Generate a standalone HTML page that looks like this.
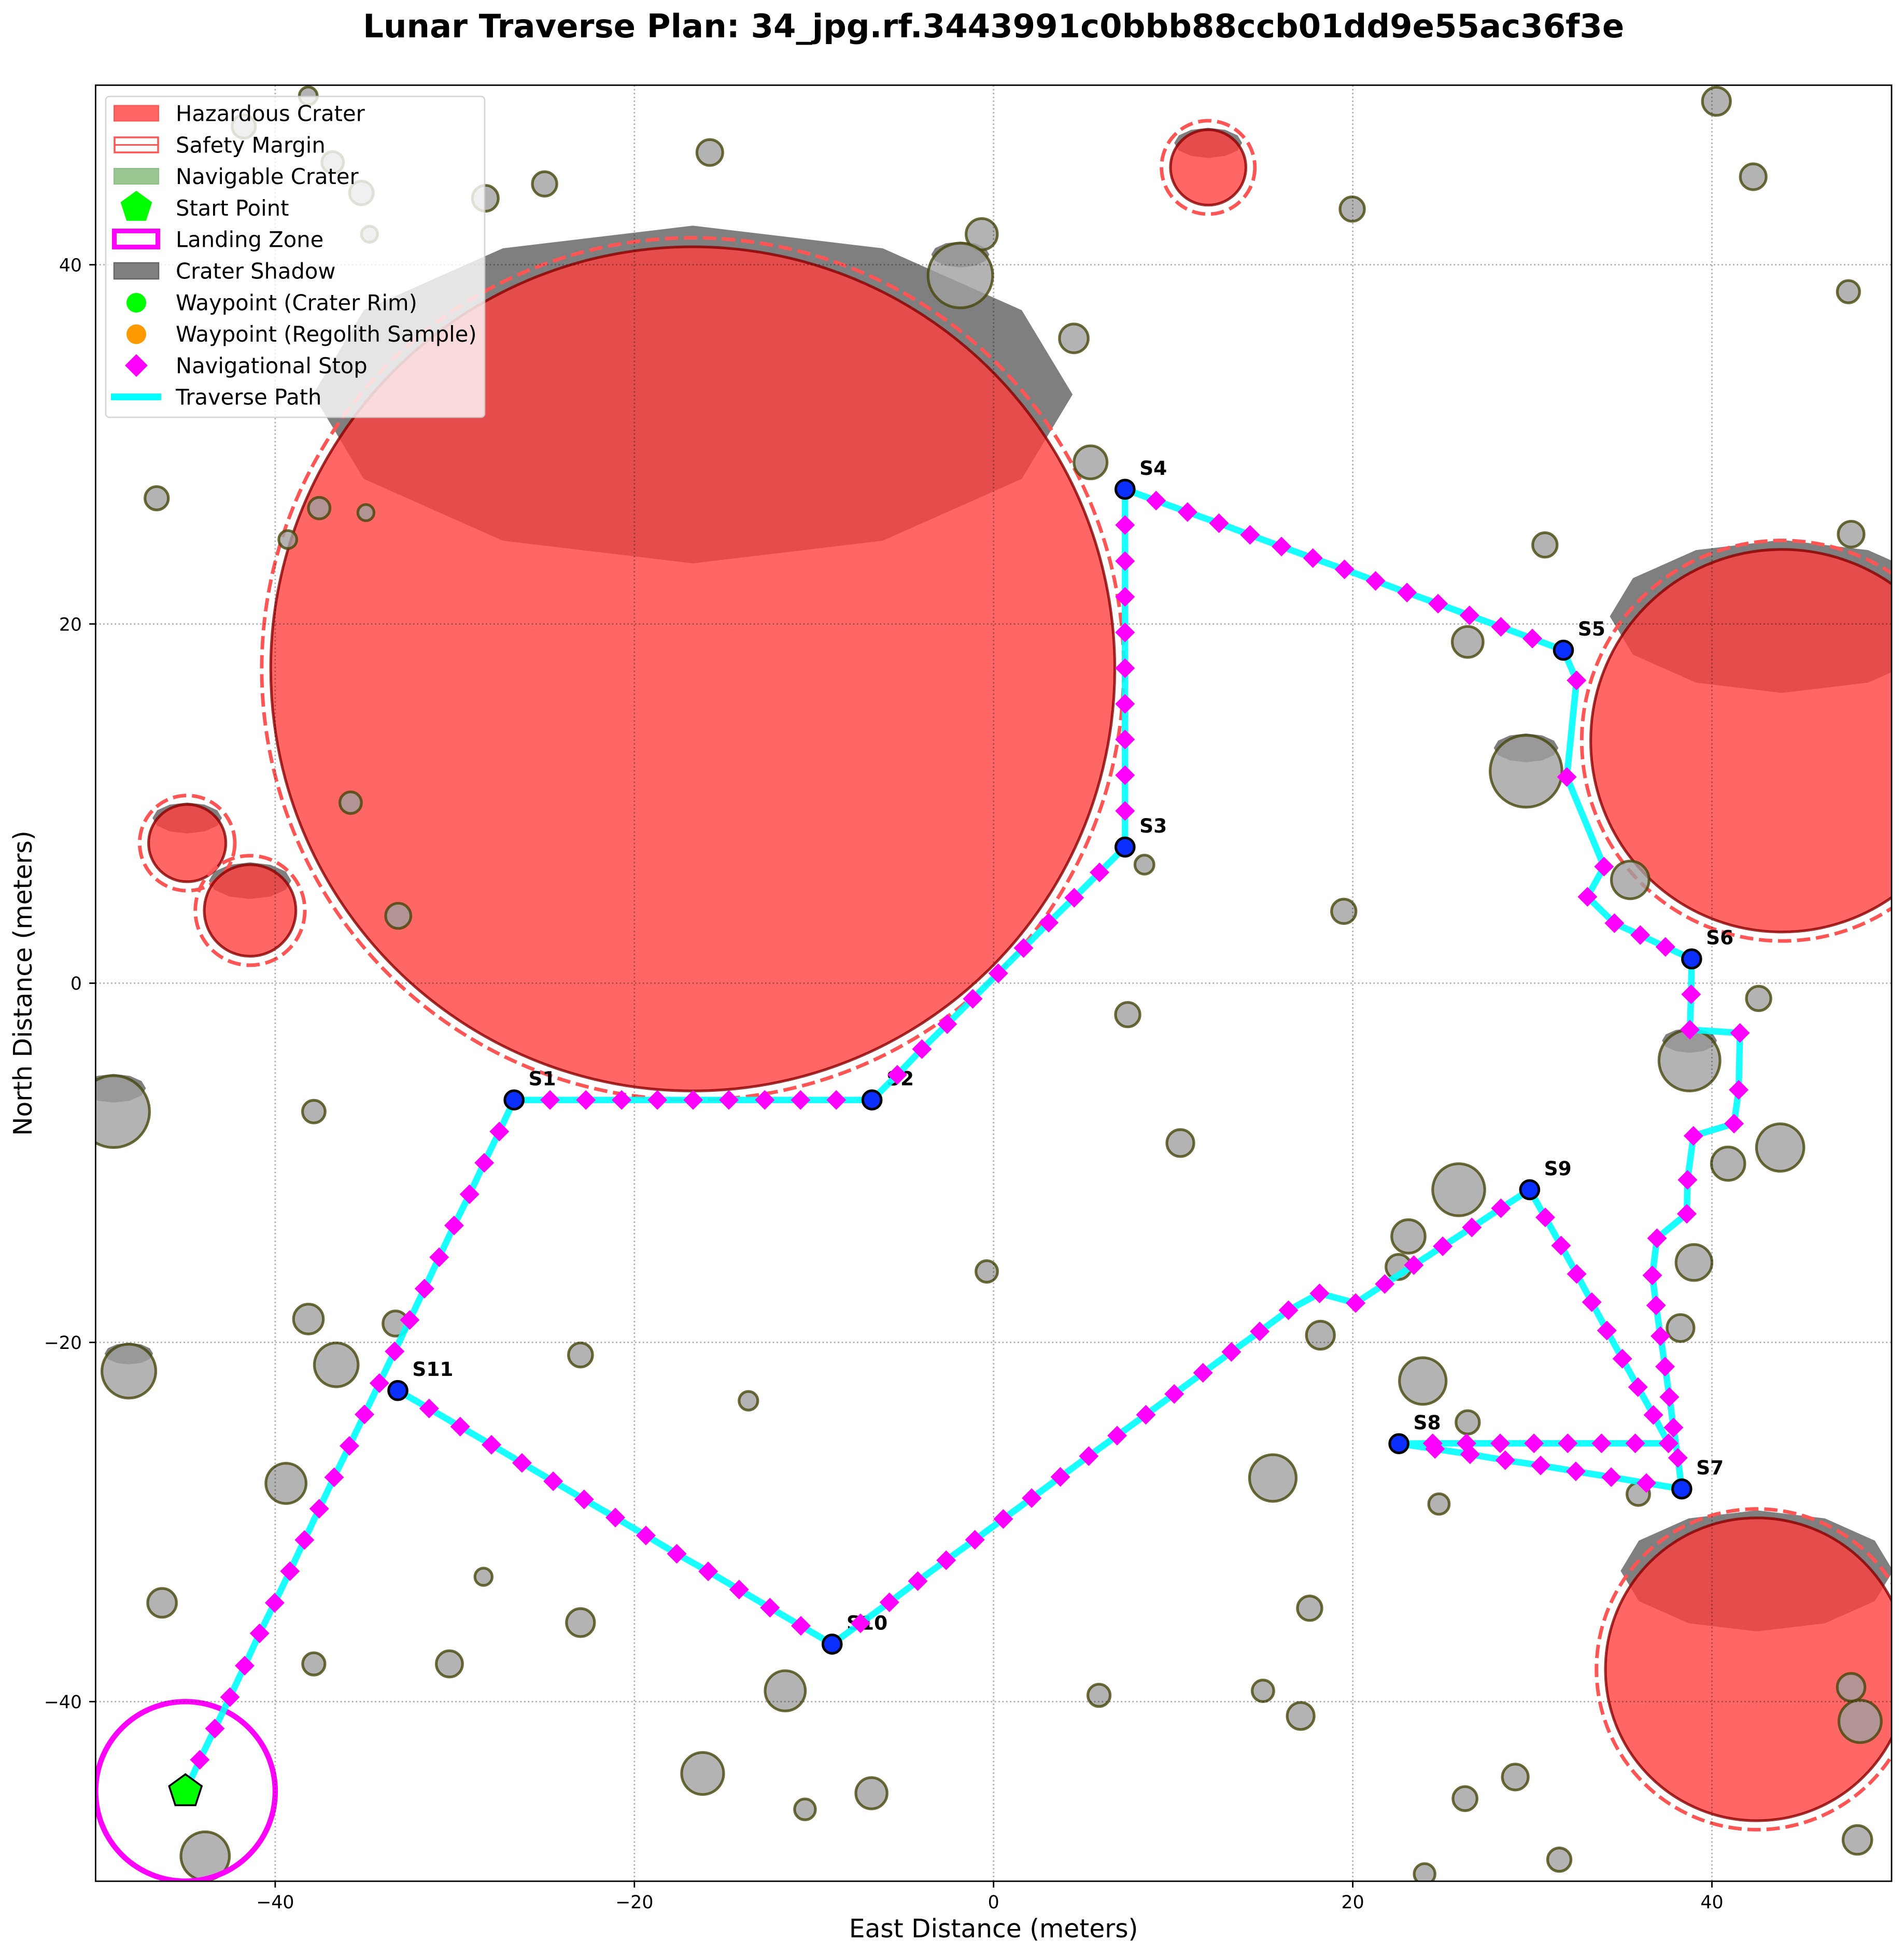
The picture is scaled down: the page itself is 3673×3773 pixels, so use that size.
<!DOCTYPE html>
<html lang="en">
<head>
<meta charset="utf-8">
<title>Lunar Traverse Plan</title>
<style>
html,body{margin:0;padding:0;background:#fff;width:3673px;height:3773px;overflow:hidden}
svg{display:block}
text{font-family:"DejaVu Sans","Liberation Sans",sans-serif;fill:#000}
</style>
</head>
<body>
<svg id="chart" xmlns="http://www.w3.org/2000/svg" width="3673" height="3773" viewBox="0 0 3673 3773">
  <defs>
    <clipPath id="axes-clip"><rect x="184.4" y="164.3" width="3464.6" height="3464.5"/></clipPath>
  </defs>
  <rect x="0" y="0" width="3673" height="3773" fill="#fff"/>
  <text x="1916.7" y="72" text-anchor="middle" font-size="62.5" font-weight="700">Lunar Traverse Plan: 34_jpg.rf.3443991c0bbb88ccb01dd9e55ac36f3e</text>
  <g id="plot" clip-path="url(#axes-clip)"></g>
  <g id="ticks"></g>
  <rect x="184.4" y="164.3" width="3464.6" height="3464.5" fill="none" stroke="#000" stroke-width="2.78"/>
  <text x="1916.7" y="3737" text-anchor="middle" font-size="48.6">East Distance (meters)</text>
  <text transform="translate(61 1896.5) rotate(-90)" text-anchor="middle" font-size="48.6">North Distance (meters)</text>

  <g>
    <rect x="204" y="186" width="731" height="619" rx="7" ry="7" fill="rgba(255,255,255,0.8)" stroke="rgba(204,204,204,0.8)" stroke-width="2.78"/>
    <g>
      <rect x="220" y="203.5" width="86" height="30" fill="rgba(255,64,64,0.8)" stroke="rgba(255,64,64,0.8)" stroke-width="2"/>
      <text x="339" y="233.5" font-size="41.67">Hazardous Crater</text>
    </g>
    <g>
      <rect x="221" y="265" width="84" height="29" fill="none" stroke="#ff5555" stroke-width="3.5"/>
      <line x1="221" x2="305" y1="279.5" y2="279.5" stroke="#ff5555" stroke-width="3"/>
      <text x="339" y="294.3" font-size="41.67">Safety Margin</text>
    </g>
    <g>
      <rect x="220" y="325" width="86" height="30" fill="#98c78f" stroke="#8fbf88" stroke-width="2"/>
      <text x="339" y="355.1" font-size="41.67">Navigable Crater</text>
    </g>
    <g>
      <polygon points="263,368 293.4,390.1 281.8,425.9 244.2,425.9 232.6,390.1" fill="#00ff00"/>
      <text x="339" y="415.9" font-size="41.67">Start Point</text>
    </g>
    <g>
      <rect x="220.5" y="445.5" width="84" height="31" fill="none" stroke="#ff00ff" stroke-width="9"/>
      <text x="339" y="476.7" font-size="41.67">Landing Zone</text>
    </g>
    <g>
      <rect x="220" y="507" width="86" height="31" fill="#808080" stroke="#666" stroke-width="2.5"/>
      <text x="339" y="537.5" font-size="41.67">Crater Shadow</text>
    </g>
    <g>
      <circle cx="263" cy="584" r="19" fill="#00ff00"/>
      <text x="339" y="598.3" font-size="41.67">Waypoint (Crater Rim)</text>
    </g>
    <g>
      <circle cx="263" cy="644.7" r="19" fill="#ff9900"/>
      <text x="339" y="659.1" font-size="41.67">Waypoint (Regolith Sample)</text>
    </g>
    <g>
      <polygon points="263,683 285,705 263,727 241,705" fill="#ff00ff"/>
      <text x="339" y="719.9" font-size="41.67">Navigational Stop</text>
    </g>
    <g>
      <line x1="214" x2="311" y1="765.6" y2="765.6" stroke="#00ffff" stroke-width="13"/>
      <text x="339" y="780.7" font-size="41.67">Traverse Path</text>
    </g>
  </g>
</svg>
<script>
// ---------- tick values ----------
const xTicks = [-40, -20, 0, 20, 40];
const yTicks = [-40, -20, 0, 20, 40];

// ---------- hazardous craters (metres) ----------
const hazardX = [-16.75, 11.95, -44.9, -41.4, 43.9, 42.5];
const hazardY = [17.5, 45.42, 7.8, 4.05, 13.5, -38.2];
const hazardR = [23.5, 2.1, 2.15, 2.55, 10.65, 8.43];
const safetyMargin = 0.5;

// ---------- navigable craters (metres) ----------
const craterX = [-38.16,-41.75,-36.8,-35.2,-34.75,-28.3,-25.0,-15.8,-0.66,-1.85,4.47,5.4,19.97,40.25,42.3,47.6,47.75,30.7,26.4,29.65,35.45,19.5,8.4,7.47,42.6,38.75,43.8,40.9,10.4,25.9,23.1,22.55,39.0,38.25,18.2,-0.38,23.9,26.4,15.55,24.8,35.9,17.6,15.0,5.87,17.1,26.25,29.05,24.0,31.5,47.75,48.25,48.1,-6.8,-10.5,-11.6,-16.2,-23.0,-30.3,-28.4,-37.85,-46.3,-43.9,-39.4,-36.6,-38.15,-33.3,-23.0,-13.65,-48.15,-49.0,-37.85,-46.6,-39.3,-37.55,-34.95,-35.8,-33.15];
const craterY = [49.4,47.7,45.7,44.0,41.7,43.7,44.5,46.25,41.7,39.4,35.9,29.0,43.1,49.1,44.9,38.5,25.0,24.4,19.0,11.8,5.75,4.0,6.6,-1.75,-0.85,-4.3,-9.15,-10.05,-8.9,-11.5,-14.1,-15.8,-15.55,-19.2,-19.6,-16.05,-22.15,-24.45,-27.55,-29.0,-28.45,-34.8,-39.4,-39.65,-40.8,-45.4,-44.2,-49.6,-48.8,-39.2,-41.1,-47.7,-45.1,-46.0,-39.4,-44.0,-35.6,-37.9,-33.05,-37.9,-34.5,-48.6,-27.85,-21.25,-18.7,-18.95,-20.7,-23.25,-21.6,-7.15,-7.15,27.0,24.7,26.45,26.2,10.05,3.75];
const craterR = [0.5,0.65,0.6,0.66,0.45,0.72,0.68,0.72,0.87,1.8,0.8,0.92,0.68,0.78,0.72,0.62,0.72,0.68,0.86,2.0,1.05,0.68,0.53,0.68,0.68,1.7,1.32,0.93,0.75,1.45,0.93,0.7,1.0,0.75,0.78,0.6,1.3,0.65,1.3,0.57,0.63,0.68,0.6,0.62,0.75,0.67,0.72,0.58,0.65,0.77,1.18,0.8,0.87,0.58,1.12,1.17,0.78,0.73,0.48,0.62,0.8,1.35,1.12,1.22,0.83,0.7,0.67,0.52,1.5,2.0,0.63,0.65,0.5,0.6,0.45,0.6,0.7];
const shadowMinRadius = 1.5;

// ---------- landing zone and start ----------
const startX = -45;
const startY = -45;
const landingRadius = 5;

// ---------- stations ----------
const stationNames = ["S1","S2","S3","S4","S5","S6","S7","S8","S9","S10","S11"];
const stationX = [-26.7,-6.77,7.32,7.32,31.73,38.87,38.32,22.57,29.85,-8.99,-33.17];
const stationY = [-6.5,-6.5,7.58,27.5,18.54,1.35,-28.16,-25.64,-11.5,-36.8,-22.68];

// ---------- navigational stops on the leg leading to each station ----------
const stopsToS1X = [-44.2,-43.36,-42.52,-41.7,-40.87,-40.03,-39.18,-38.37,-37.55,-36.72,-35.87,-35.03,-34.2,-33.35,-32.51,-31.69,-30.87,-30.04,-29.18,-28.36,-27.52];
const stopsToS1Y = [-43.24,-41.5,-39.75,-38,-36.2,-34.5,-32.74,-31,-29.26,-27.51,-25.76,-24.01,-22.27,-20.5,-18.75,-17.01,-15.26,-13.49,-11.75,-10,-8.26];
const stopsToS2X = [-24.7,-22.7,-20.71,-18.72,-16.73,-14.74,-12.74,-10.75,-8.76];
const stopsToS2Y = [-6.5,-6.5,-6.5,-6.5,-6.5,-6.5,-6.5,-6.5,-6.5];
const stopsToS3X = [-5.36,-3.99,-2.58,-1.16,0.26,1.67,3.07,4.49,5.9];
const stopsToS3Y = [-5.1,-3.67,-2.28,-0.87,0.55,1.96,3.37,4.76,6.17];
const stopsToS4X = [7.32,7.32,7.32,7.32,7.32,7.32,7.32,7.32,7.32];
const stopsToS4Y = [9.59,11.58,13.57,15.55,17.54,19.53,21.51,23.5,25.51];
const stopsToS5X = [9.05,10.8,12.55,14.28,16.03,17.78,19.54,21.27,23.02,24.75,26.5,28.25,30.0];
const stopsToS5Y = [26.87,26.23,25.61,24.96,24.31,23.67,23.04,22.4,21.75,21.13,20.48,19.84,19.19];
const stopsToS6X = [32.46,31.92,33.99,33.07,34.57,36.01,37.41];
const stopsToS6Y = [16.86,11.48,6.49,4.81,3.34,2.68,2.02];
const stopsToS7X = [38.84,38.77,41.56,41.49,41.23,38.97,38.64,38.6,36.94,36.68,36.89,37.13,37.39,37.63,37.86,38.1];
const stopsToS7Y = [-0.62,-2.59,-2.77,-5.94,-7.82,-8.5,-10.95,-12.84,-14.2,-16.27,-17.94,-19.65,-21.35,-23.04,-24.74,-26.43];
const stopsToS8X = [36.35,34.39,32.42,30.46,28.49,26.53,24.58];
const stopsToS8Y = [-27.83,-27.5,-27.18,-26.85,-26.56,-26.23,-25.93];
const stopsToS9X = [24.45,26.33,28.21,30.09,31.97,33.85,35.73,37.58,36.74,35.88,35.01,34.15,33.31,32.47,31.6,30.72];
const stopsToS9Y = [-25.62,-25.62,-25.62,-25.62,-25.62,-25.62,-25.62,-25.62,-24.04,-22.49,-20.91,-19.34,-17.76,-16.19,-14.61,-13.04];
const stopsToS10X = [28.25,26.63,25.01,23.4,21.78,20.16,18.15,16.42,14.82,13.24,11.66,10.06,8.48,6.88,5.3,3.72,2.12,0.54,-1.04,-2.64,-4.22,-5.8,-7.41];
const stopsToS10Y = [-12.53,-13.6,-14.65,-15.7,-16.75,-17.81,-17.27,-18.21,-19.39,-20.53,-21.69,-22.87,-24.03,-25.19,-26.33,-27.49,-28.67,-29.83,-30.99,-32.13,-33.29,-34.47,-35.64];
const stopsToS11X = [-10.73,-12.45,-14.17,-15.89,-17.64,-19.36,-21.06,-22.8,-24.52,-26.26,-27.96,-29.7,-31.43];
const stopsToS11Y = [-35.78,-34.77,-33.76,-32.75,-31.77,-30.75,-29.75,-28.74,-27.73,-26.71,-25.7,-24.69,-23.68];
const legStopsX = [stopsToS1X,stopsToS2X,stopsToS3X,stopsToS4X,stopsToS5X,stopsToS6X,stopsToS7X,stopsToS8X,stopsToS9X,stopsToS10X,stopsToS11X];
const legStopsY = [stopsToS1Y,stopsToS2Y,stopsToS3Y,stopsToS4Y,stopsToS5Y,stopsToS6Y,stopsToS7Y,stopsToS8Y,stopsToS9Y,stopsToS10Y,stopsToS11Y];

// ---------- axis functions ----------
const UNIT = 34.645;
function sx(v){ return 1916.7 + UNIT * v; }
function sy(v){ return 1896.5 - UNIT * v; }
function minusLabel(v){ return v < 0 ? "\u2212" + Math.abs(v) : String(v); }

const NS = "http://www.w3.org/2000/svg";
const plot = document.getElementById("plot");
const tickLayer = document.getElementById("ticks");
function mk(tag, attrs, parent){
  const el = document.createElementNS(NS, tag);
  for (const k in attrs) el.setAttribute(k, attrs[k]);
  parent.appendChild(el);
  return el;
}
function shadowPoints(cx, cy, r){
  const pts = [];
  const ex = sx(cx), ey = sy(cy + 0.65 * r), rx = 0.9 * r * UNIT, ry = 0.4 * r * UNIT;
  for (let a = 0; a < 12; a++){
    const t = a * Math.PI / 6;
    pts.push((ex + rx * Math.cos(t)).toFixed(1) + "," + (ey - ry * Math.sin(t)).toFixed(1));
  }
  return pts.join(" ");
}
function drawShadow(cx, cy, r){
  const el = mk("polygon", {points: shadowPoints(cx, cy, r), fill: "rgba(0,0,0,0.5)"}, plot);
  
  
}

// ---------- shadows first, craters on top ----------
hazardX.forEach(function(x, i){ drawShadow(x, hazardY[i], hazardR[i]); });
craterX.forEach(function(x, i){ if (craterR[i] >= shadowMinRadius) drawShadow(x, craterY[i], craterR[i]); });

hazardX.forEach(function(x, i){
  const body = mk("circle", {cx: sx(x), cy: sy(hazardY[i]), r: hazardR[i] * UNIT, fill: "rgba(255,64,64,0.8)", stroke: "rgba(139,0,0,0.8)", "stroke-width": 5.2}, plot);
  
  
  const ring = mk("circle", {cx: sx(x), cy: sy(hazardY[i]), r: (hazardR[i] + safetyMargin) * UNIT, fill: "none", stroke: "#ff5555", "stroke-width": 6.9, "stroke-dasharray": "25.7 11.1"}, plot);
  
  
});

craterX.forEach(function(x, i){
  const c = mk("circle", {cx: sx(x), cy: sy(craterY[i]), r: craterR[i] * UNIT, fill: "rgba(160,160,160,0.8)", stroke: "rgba(70,70,10,0.8)", "stroke-width": 5.2}, plot);
  
  
});

// ---------- landing zone ----------
const landing = mk("circle", {cx: sx(startX), cy: sy(startY), r: landingRadius * UNIT, fill: "none", stroke: "#ff00ff", "stroke-width": 10.4}, plot);



// ---------- grid ----------
xTicks.forEach(function(v){
  const g = mk("line", {x1: sx(v), x2: sx(v), y1: 164.3, y2: 3628.8, stroke: "rgba(0,0,0,0.32)", "stroke-width": 2.78, "stroke-dasharray": "2.78 4.6"}, plot);
  
  
});
yTicks.forEach(function(v){
  const g = mk("line", {x1: 184.4, x2: 3649, y1: sy(v), y2: sy(v), stroke: "rgba(0,0,0,0.32)", "stroke-width": 2.78, "stroke-dasharray": "2.78 4.6"}, plot);
  
  
});

// ---------- station labels (under the path) ----------
stationNames.forEach(function(name, i){
  const t = mk("text", {x: sx(stationX[i]) + 27.8, y: sy(stationY[i]) - 28, "font-size": 37.5, "font-weight": 700}, plot);
  t.textContent = name;
  
  
});

// ---------- traverse path ----------
const pathPts = [sx(startX).toFixed(1) + "," + sy(startY).toFixed(1)];
legStopsX.forEach(function(xs, leg){
  xs.forEach(function(x, j){ pathPts.push(sx(x).toFixed(1) + "," + sy(legStopsY[leg][j]).toFixed(1)); });
  pathPts.push(sx(stationX[leg]).toFixed(1) + "," + sy(stationY[leg]).toFixed(1));
});
const route = mk("polyline", {points: pathPts.join(" "), fill: "none", stroke: "rgba(0,255,255,0.9)", "stroke-width": 12.5, "stroke-linejoin": "round"}, plot);



// ---------- stops ----------
const D = 19;
legStopsX.forEach(function(xs, leg){
  xs.forEach(function(x, j){
    const px = sx(x), py = sy(legStopsY[leg][j]);
    const s = mk("polygon", {points: px + "," + (py - D) + " " + (px + D) + "," + py + " " + px + "," + (py + D) + " " + (px - D) + "," + py, fill: "#ff00ff"}, plot);
    
    
  });
});

// ---------- stations ----------
stationNames.forEach(function(name, i){
  const w = mk("circle", {cx: sx(stationX[i]), cy: sy(stationY[i]), r: 17.8, fill: "#0a2fff", stroke: "#000", "stroke-width": 5}, plot);
  
  
});

// ---------- start pentagon ----------
(function(){
  const pts = [];
  for (let a = 0; a < 5; a++){
    const t = -Math.PI / 2 + a * 2 * Math.PI / 5;
    pts.push((sx(startX) + 33 * Math.cos(t)).toFixed(1) + "," + (sy(startY) + 33 * Math.sin(t)).toFixed(1));
  }
  const p = mk("polygon", {points: pts.join(" "), fill: "#00ff00", stroke: "#000", "stroke-width": 3.6, "stroke-linejoin": "miter"}, plot);
  
  
})();

// ---------- ticks ----------
xTicks.forEach(function(v){
  const m = mk("line", {x1: sx(v), x2: sx(v), y1: 3628.8, y2: 3641, stroke: "#000", "stroke-width": 2.78}, tickLayer);
  
  
  const t = mk("text", {x: sx(v), y: 3681, "text-anchor": "middle", "font-size": 34.72}, tickLayer);
  t.textContent = minusLabel(v);
  
  
});
yTicks.forEach(function(v){
  const m = mk("line", {x1: 172.2, x2: 184.4, y1: sy(v), y2: sy(v), stroke: "#000", "stroke-width": 2.78}, tickLayer);
  
  
  const t = mk("text", {x: 158, y: sy(v) + 12.7, "text-anchor": "end", "font-size": 34.72}, tickLayer);
  t.textContent = minusLabel(v);
  
  
});
</script>
</body>
</html>
